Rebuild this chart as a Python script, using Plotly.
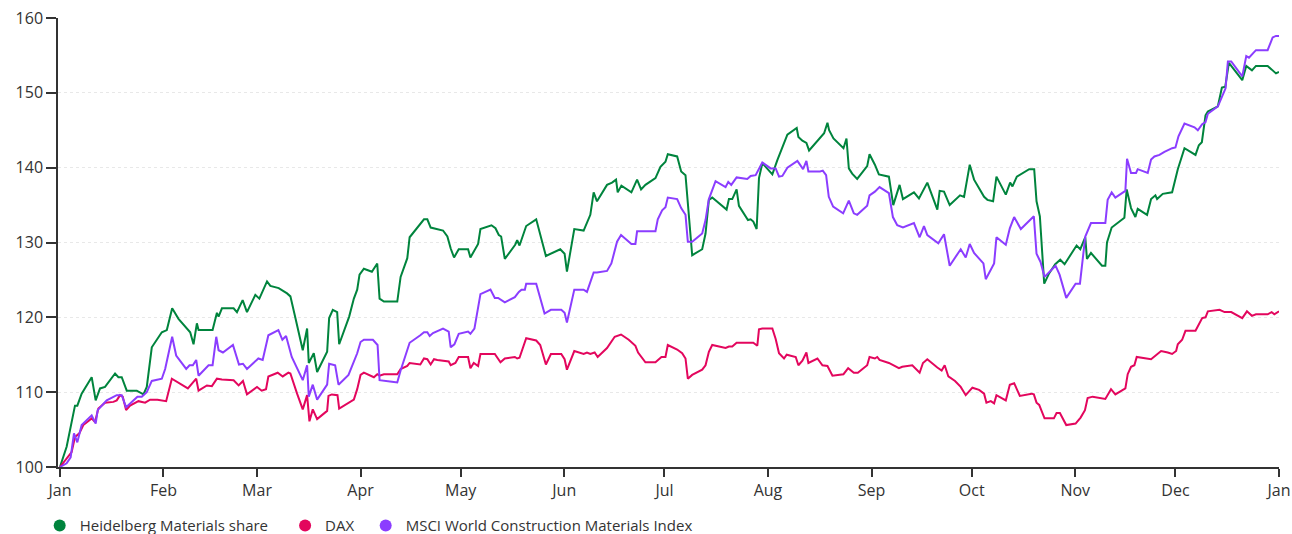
import pandas as pd
import plotly.graph_objects as go

# ---- data (day offsets from 2023-01-01, indexed values, base 100) ----
hm_days = [0, 2, 4.5, 5.2, 6.5, 9.5, 10.7, 12, 13.5, 16.5, 17.5, 18.5, 20, 23, 25, 26, 27.5, 30.5, 32, 33.6,
           35.5, 38, 39, 40, 41, 41.5, 45.7, 47, 47.5, 48.5, 52, 53, 54.7, 56, 58.5, 59.7, 62, 63, 65.5, 68,
           69, 70.4, 72.7, 74, 74.5, 76, 77, 80, 80.6, 81.7, 83, 83.6, 86.6, 88, 89, 89.7, 91, 93.4, 95, 95.7,
           97, 101, 102, 104, 104.7, 109, 110, 111, 114.7, 116, 117, 118, 119.4, 122.2, 122.9, 125.2, 125.9,
           129.2, 130.4, 131.4, 132.1, 133.2, 136.3, 136.9, 137.6, 139.6, 142.6, 145.5, 149.8, 151.1, 151.8,
           154, 156.8, 158.8, 159.8, 160.8, 163.8, 165.3, 166.5, 167, 168.1, 171.1, 172.8, 174, 175.3, 178.3,
           179.8, 181.3, 182, 184.8, 186, 187.3, 189.3, 192.3, 193.3, 194.3, 195.3, 199.6, 200.3, 201.3, 202.6,
           203.3, 206, 206.8, 207.6, 208.6, 209.3, 210.3, 213.3, 214.8, 216.6, 217.8, 220.6, 221.1, 222.3,
           223.5, 224.3, 227.6, 228.8, 229.8, 230.3, 231.6, 234.6, 235.5, 236.2, 237.2, 238.7, 241.7, 242.4,
           244, 245.2, 248.2, 249.5, 251.4, 252.4, 255.7, 257.2, 259.7, 262.7, 263.4, 264.7, 266.4, 269.5,
           270.7, 272.4, 273.7, 276.7, 277.7, 279.4, 280.4, 283.2, 284.5, 285.2, 286.5, 290.2, 291.7, 292.4,
           293.4, 294.7, 296.2, 298, 299.5, 300.8, 304.4, 305.5, 307, 307.5, 308.7, 312, 313, 313.5, 314.9,
           318.7, 319.4, 320.7, 322, 322.7, 325.5, 326.7, 328, 328.5, 330.2, 333, 334.7, 336.7, 340, 341,
           341.9, 343, 343.7, 346.7, 347.9, 348.9, 350, 354, 355.2, 356.9, 358.1, 361.6, 364.1, 365]
hm_vals = [100, 102.7, 108.2, 108.2, 109.8, 112, 108.9, 110.5, 110.7, 112.5, 112, 112, 110.2, 110.2, 109.7, 110.7,
           116, 118, 118.3, 121.2, 119.8, 118.5, 118, 116.4, 119.2, 118.3, 118.3, 120.6, 120.1, 121.2, 121.2,
           120.7, 122.3, 120.7, 123, 122.5, 124.8, 124.2, 123.9, 123.2, 122.8, 120.1, 115.6, 118.5, 113.9,
           115.2, 112.7, 115.4, 119.9, 121, 120.7, 116.4, 120.1, 122.5, 123.7, 125.7, 126.5, 126.1, 127.2,
           122.5, 122.1, 122.1, 125.4, 127.9, 130.7, 133.1, 133.1, 132, 131.6, 130.8, 129.2, 128, 129.1, 129.1,
           128, 129.8, 131.8, 132.3, 131.9, 131, 130.8, 127.8, 129.7, 130.3, 129.6, 132.2, 133.1, 128.2, 129.1,
           128.5, 126.1, 131.8, 131.6, 133.7, 136.7, 135.5, 137.7, 138, 138.4, 136.7, 137.6, 136.7, 138.4,
           137.1, 137.7, 138.6, 140.1, 140.8, 141.8, 141.5, 139.5, 139, 128.3, 129.1, 131.2, 135.7, 136, 134.4,
           135.8, 135.8, 137.1, 134.9, 133, 133.1, 132.8, 131.8, 138.6, 140.6, 139.1, 141, 143, 144.4, 145.3,
           144.1, 143.6, 143.3, 142.3, 143.9, 144.6, 146, 145, 143.9, 142.6, 143.9, 139.9, 139.2, 138.5, 140.2,
           141.8, 140.4, 139.1, 138.8, 135, 137.7, 135.8, 136.7, 135.9, 138, 134.4, 136.9, 136.8, 135, 136.3,
           136.1, 140.4, 138.4, 136.1, 135.7, 135.5, 138.8, 136.4, 138, 137.5, 138.8, 139.8, 139.8, 135.5,
           133.5, 124.5, 125.9, 127.1, 127.7, 127.1, 129.6, 129.1, 130.7, 127.8, 128.6, 126.9, 126.9, 130, 132,
           133.3, 137.1, 134.6, 133.4, 134.5, 133.7, 135.8, 136.3, 135.8, 136.5, 136.7, 139.8, 142.6, 141.7,
           143, 143.4, 147, 147.5, 148.2, 150.7, 150.8, 154, 151.7, 153.6, 153, 153.6, 153.6, 152.6, 152.8]

dax_days = [0, 2, 3.5, 4.5, 5.8, 7, 9.5, 10.5, 11.5, 13.5, 16, 17, 18, 18.8, 19.8, 21, 23.5, 25.5, 27, 29.2,
            31.8, 33.5, 36, 38.3, 40.8, 41.5, 44, 45.5, 47, 48.5, 52, 53.5, 54.8, 56, 59, 60.4, 61.7, 62.4,
            65.2, 66.7, 68.4, 69, 71, 72.7, 74, 74.7, 75.7, 77, 80, 80.4, 81.4, 83.1, 83.6, 87, 88, 89, 90, 91,
            93, 94, 95, 95.7, 97, 101, 102, 104, 104.7, 107.9, 109, 110, 111, 112, 113, 116.4, 117, 118.4,
            119.4, 122.2, 122.9, 123.9, 125.2, 125.9, 130.2, 131.9, 133.2, 136.2, 136.9, 137.6, 139.6, 142.6,
            143.8, 145.5, 147, 150.1, 151.1, 151.8, 154, 156.8, 157.8, 158.8, 160.1, 161, 163.8, 166.1, 168,
            170.3, 172.3, 173.1, 175.3, 178.3, 180.1, 181.3, 182, 184.8, 186.3, 187.3, 188, 189.3, 192.3, 193.3,
            194.3, 195.3, 199.3, 200.3, 201.3, 202.6, 207.6, 208.8, 209.3, 210.3, 213.3, 214.3, 215.3, 216.8,
            217.6, 220.3, 221.1, 222.3, 223.5, 224.1, 226.8, 228.3, 229.8, 231.3, 234.6, 236, 237.7, 238.9,
            241.7, 242.4, 244, 244.7, 245.4, 248.2, 251.2, 252.2, 255.2, 257.4, 258.4, 259.7, 262.7, 264, 264.9,
            266, 268, 269.7, 271.2, 273.2, 275.2, 276.7, 277.4, 278.7, 279.7, 280.4, 283.2, 284.4, 285.7, 287.4,
            290.9, 291.6, 292.4, 293.2, 294.8, 297.6, 298.4, 299.4, 301.3, 304.1, 305.6, 306.9, 307.7, 309.2,
            313, 314.7, 316, 319, 319.7, 320.7, 321.7, 322.4, 326.7, 329.7, 331.7, 333, 334.2, 334.7, 336, 337,
            340, 341.2, 342, 343, 343.7, 347.2, 348.7, 350.7, 354, 355.4, 356.9, 358.1, 361.6, 362.8, 363.6, 365]
dax_vals = [100, 101.1, 102, 104, 104.5, 105.6, 106.5, 106, 107.8, 108.6, 108.7, 108.9, 109.6, 109.4, 107.6,
            108.2, 108.8, 108.6, 109, 109, 108.8, 111.8, 111.1, 110.5, 111.8, 110.2, 110.9, 110.8, 111.8, 111.7,
            111.6, 110.9, 111.5, 109.7, 110.7, 110.2, 110.4, 112.1, 112.6, 112.1, 112.6, 112.5, 109.8, 107.7,
            109.6, 106.1, 107.7, 106.4, 107.5, 109.5, 109.7, 109.6, 107.8, 108.7, 109, 110.4, 112.3, 112.6,
            112.2, 112, 112.4, 112.2, 112.4, 112.4, 113.1, 113.5, 113.9, 113.7, 114.5, 114.4, 113.7, 114.4,
            114.3, 114.1, 113.6, 113.9, 114.7, 114.7, 113.2, 113.9, 113.5, 115.1, 115.1, 114, 114.5, 114.7,
            114.5, 114.6, 117.2, 116.9, 116.3, 113.7, 115.1, 115.1, 114.4, 113, 115.5, 115.1, 115.3, 115.1,
            115.3, 114.7, 115.9, 117.4, 117.7, 117, 116.2, 115.3, 114, 114, 114.7, 114.7, 116.3, 115.7, 115.2,
            114.5, 111.8, 112.3, 113, 113.6, 115.4, 116.3, 115.9, 116.1, 116.1, 116.6, 116.6, 116.2, 118.4,
            118.5, 118.5, 117.1, 115.2, 114.5, 115, 114.7, 113.6, 114.2, 115.3, 113.9, 114.5, 113.6, 113.5,
            112.2, 112.4, 113.2, 112.6, 112.6, 113.6, 114.7, 114.5, 114.7, 114.3, 113.9, 113.2, 113.4, 113.6,
            112.6, 113.9, 114.4, 113.3, 112.9, 113.6, 112.1, 111.5, 110.7, 109.6, 110.6, 110.3, 109.8, 108.6,
            108.8, 108.5, 109.6, 108.9, 111, 111.2, 109.5, 109.8, 109.7, 108.6, 108.3, 106.5, 106.5, 107.2,
            107.2, 105.6, 105.8, 106.6, 107.6, 109.2, 109.4, 109.1, 110.4, 109.7, 110.5, 112.4, 113.4, 113.6,
            114.7, 114.4, 115.5, 115.3, 115.1, 115.5, 116.4, 117, 118.2, 118.2, 119.3, 119.9, 120, 120.8, 121,
            120.7, 120.7, 119.9, 120.8, 120.2, 120.4, 120.4, 120.7, 120.4, 120.8]

msci_days = [0, 2, 3.2, 4.2, 5.2, 6.5, 9.5, 10.7, 11.3, 14, 17, 18.5, 19.8, 23.2, 24.5, 26, 27.5, 30.5, 31.5,
             33.6, 34.8, 37.8, 38.8, 39.8, 40.8, 41.5, 44.5, 45.7, 46.8, 47.5, 48.8, 51.8, 53.6, 54.8, 56, 59.4,
             60.7, 62.4, 65.4, 66.6, 67.7, 69.4, 72.7, 74, 74.5, 75.7, 77, 80, 80.6, 82.4, 83.4, 86.4, 89, 90,
             91, 93.7, 95.1, 95.7, 99.4, 101, 102, 104.7, 107.9, 109, 110, 110.7, 111.7, 114.7, 116.4, 117,
             118.1, 119.4, 122.2, 122.9, 124.1, 125.9, 128.9, 130.2, 131.2, 133.2, 136.2, 137.4, 138.2, 139.2,
             139.6, 142.6, 145.1, 147, 150.1, 151.1, 151.8, 154, 156.8, 157.8, 159.8, 160.8, 163.8, 165.1, 166.8,
             168, 171.1, 172.3, 172.8, 178.3, 179, 180.3, 181.3, 182, 184.8, 186, 187.3, 188, 189.3, 192.3,
             193.3, 194.3, 196.3, 199.3, 200.1, 201, 202.6, 205.8, 206.8, 208.3, 210.3, 212.8, 214.3, 215.3,
             216.3, 217.8, 220.8, 222.5, 223.5, 224.1, 227.6, 228.4, 229.4, 230.2, 231.5, 234.5, 236.2, 237.7,
             238.7, 241.7, 242.4, 244, 245.4, 248.2, 249.4, 250.7, 252.4, 255.7, 257.4, 258.7, 259.7, 263, 264.7,
             266.4, 269.7, 271.2, 272.4, 273.7, 276.5, 277.2, 279.7, 280.4, 283.2, 284.4, 285.7, 287.7, 291.6,
             292.4, 293.6, 294.8, 298.1, 299.3, 301.3, 304.1, 305.4, 307, 308.7, 313, 313.7, 314.9, 316, 319,
             319.5, 320.7, 322.2, 322.7, 325.7, 326.7, 327.7, 329.2, 330.7, 333, 334, 334.9, 336.7, 339.7, 340.7,
             342, 343, 343.7, 346.7, 349, 349.7, 350.7, 354, 355.2, 356, 358.1, 361.6, 363.1, 364.1, 365]
msci_vals = [100, 100.5, 101.3, 104.5, 103.3, 105.6, 106.9, 105.8, 107.6, 108.9, 109.6, 109.6, 108, 109.4, 109.4,
             110, 111.5, 111.8, 113.1, 117.4, 114.9, 113.1, 113.6, 113.6, 114.3, 112.2, 113.6, 113.6, 117.4,
             115.6, 115.3, 116.3, 113.7, 113.8, 113.1, 114.5, 114.3, 117.6, 118.3, 117, 117.5, 114.7, 111.6,
             113.6, 109.4, 111, 109, 111, 113.8, 113.6, 111, 112.3, 115.2, 116.7, 117, 117, 116.3, 111.6, 111.4,
             111.3, 112.9, 116.6, 117.6, 118, 118, 117.5, 117.9, 118.5, 118.1, 116, 116.4, 117.8, 118.1, 117.8,
             118.5, 123.1, 123.7, 122.6, 122.6, 122, 122.7, 123.4, 123.7, 123.7, 124.5, 124.5, 120.5, 121, 121,
             120.6, 119.3, 123.7, 123.7, 123.4, 126, 126, 126.2, 127.2, 130.1, 131, 129.8, 129.8, 131.5, 131.5,
             133.1, 134.3, 134.7, 136, 135.8, 134.6, 133.7, 130.1, 130.1, 131.2, 133, 135.8, 138.2, 137.4, 138.1,
             137.7, 138.7, 138.5, 138.9, 139, 140.7, 139.9, 139.9, 138.8, 138.9, 140, 140.9, 139.8, 140.9, 139.5,
             139.5, 139.6, 139, 136.1, 134.8, 133.9, 135.6, 133.9, 133.7, 134.9, 136.3, 136.8, 137.4, 136.6,
             133.4, 132.3, 132, 132.6, 130.7, 132.2, 131, 129.9, 131.1, 126.9, 129.1, 128, 129.8, 128.6, 127.2,
             125.1, 127.2, 130.7, 129.7, 131.9, 133.4, 131.8, 133.5, 128.5, 127.4, 125.4, 126.9, 125.7, 122.6,
             124.5, 124.5, 130.8, 132.6, 132.6, 135.7, 136.7, 136, 136.9, 141.2, 139.3, 139.3, 139.8, 139.3,
             141.1, 141.5, 141.7, 142.1, 142.6, 142.7, 144.2, 145.9, 145.4, 145, 145.8, 146.1, 147.2, 148.2,
             150.6, 154.2, 154.2, 152.2, 154.9, 154.7, 155.7, 155.7, 157.4, 157.6, 157.6]

series_names = ["Heidelberg Materials share", "DAX", "MSCI World Construction Materials Index"]
series_colors = ["#00843d", "#e3065d", "#8b3dff"]
start_date = "2023-01-01"
x_range = ["2022-12-31 10:00", "2024-01-01"]
y_ticks = [100, 110, 120, 130, 140, 150, 160]
legend_x = [-0.0150, 0.1860, 0.2520]


def to_dates(days):
    return pd.Timestamp(start_date) + pd.to_timedelta(days, unit="D")


fig = go.Figure()
for name, color, days, vals in zip(series_names, series_colors,
                                   [hm_days, dax_days, msci_days],
                                   [hm_vals, dax_vals, msci_vals]):
    fig.add_trace(go.Scatter(x=to_dates(days), y=vals, mode="lines", name=name,
                             line=dict(color=color, width=2), showlegend=False,
                             hovertemplate="%{y:.1f}<extra>" + name + "</extra>"))

legend_ids = ["legend", "legend2", "legend3"]
for name, color, lid in zip(series_names, series_colors, legend_ids):
    fig.add_trace(go.Scatter(x=[None], y=[None], mode="markers", name=name, legend=lid,
                             marker=dict(color=color, size=12, symbol="circle")))

font_family = "'Open Sans', 'Noto Sans', sans-serif"
legend_common = dict(orientation="h", xanchor="left", y=-0.131, yanchor="middle",
                     font=dict(size=15, color="#333333", family=font_family),
                     itemwidth=30, bgcolor="rgba(0,0,0,0)")

fig.update_layout(
    width=1292, height=534,
    margin=dict(l=58, r=13, t=18, b=67, autoexpand=False),
    paper_bgcolor="white", plot_bgcolor="white",
    font=dict(family=font_family, size=16, color="#333333"),
    showlegend=True,
    legend=dict(x=legend_x[0], **legend_common),
    legend2=dict(x=legend_x[1], **legend_common),
    legend3=dict(x=legend_x[2], **legend_common),
    xaxis=dict(type="date", range=x_range, dtick="M1", tick0="2023-01-01",
               tickformat="%b", showgrid=False, showline=True, linecolor="#333333", linewidth=1.5,
               ticks="outside", ticklen=8, tickcolor="#333333", tickwidth=1.5, zeroline=False,
               tickfont=dict(size=16), automargin=False),
    yaxis=dict(range=[100, 160], tickvals=y_ticks, showgrid=True, gridcolor="#e8e8e8",
               griddash="dot", gridwidth=1, showline=True, linecolor="#333333", linewidth=1.5,
               ticks="outside", ticklen=10, tickcolor="#333333", tickwidth=1.5, zeroline=False,
               tickfont=dict(size=16), automargin=False),
)

fig.write_html("out.html", config={"displayModeBar": False},
               post_script="document.body.style.margin='0';document.body.style.overflow='hidden';")
